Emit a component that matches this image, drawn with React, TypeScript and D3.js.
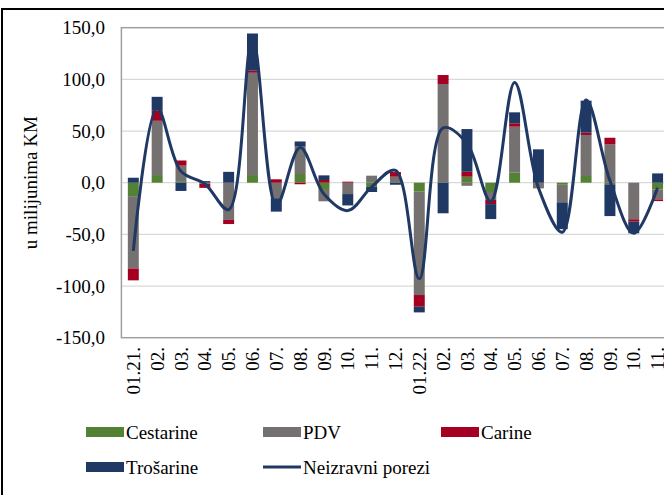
import * as d3 from 'd3';

// monthly change components (u milijunima KM)
const months = ["01.21.", "02.", "03.", "04.", "05.", "06.", "07.", "08.", "09.", "10.", "11.", "12.",
  "01.22.", "02.", "03.", "04.", "05.", "06.", "07.", "08.", "09.", "10.", "11."];

const cestarine = [-13, 7.4, 1.5, 0, 0, 7.4, 0, 8.4, -7, 0, -4, 0,
  -8.7, 0, 5.8, -9, 9.7, 0, -2, 6.5, -1.6, 0, -6.5];
const pdv = [-70, 52.5, 15, -1, -36, 99, -15, 26.5, -11, -11, 6.8, 5.8,
  -100, 95.5, -3, -7.7, 44.5, -5.5, -17, 39.7, 37, -35.4, -9.7];
const carine = [-11.5, 9.7, 5, -4, -4, 2, 3.3, -1.5, 2.6, 1, 0, 4.5,
  -11.3, 8.7, 4.8, -4, 3.3, 0, 0, 2.2, 6.5, -2.3, -1.6];
const trosarine = [4.8, 13.5, -8, 1.5, 10.5, 36, -13, 5, 4.5, -11, -5, -2,
  -5.5, -29.6, 41.3, -14.5, 10.6, 32.3, -26, 31, -30.7, -11.3, 9];
const neizravni = [-66, 72, 11, -1, -26, 140, -22, 34, -11, -27, -4, 12,
  -93, 53, 38, -18, 97, -5, -48, 80, 2, -49, -5];

const yTicks = [150, 100, 50, 0, -50, -100, -150];

const series = [
  { key: 'Cestarine', values: cestarine, color: '#548235' },
  { key: 'PDV', values: pdv, color: '#767171' },
  { key: 'Carine', values: carine, color: '#A50021' },
  { key: 'Trošarine', values: trosarine, color: '#1F3864' },
];
const lineColor = '#1F3864';
const font = '"Liberation Serif", "Times New Roman", serif';

export default function App() {
  const left = 121.4, right = 669.5, top = 27.7, bottom = 337.7;

  const x = d3.scaleBand<number>()
    .domain(d3.range(months.length))
    .range([left, right])
    .paddingInner(0.54)
    .paddingOuter(0.27);
  const y = d3.scaleLinear().domain([-150, 150]).range([bottom, top]);

  const rows = months.map((_, i) => {
    const r: any = { i };
    series.forEach(s => { r[s.key] = s.values[i]; });
    return r;
  });
  const stacked = d3.stack<any>()
    .keys(series.map(s => s.key))
    .offset(d3.stackOffsetDiverging)(rows);

  const cx = (i: number) => (x(i) ?? 0) + x.bandwidth() / 2;
  const line = d3.line<number>()
    .x((_, i) => cx(i))
    .y(d => y(d))
    .curve(d3.curveCatmullRom.alpha(0.5));

  const fmt = (v: number) => d3.format('.1f')(v).replace('.', ',').replace('−', '-');

  return (
    <svg width={664} height={495} style={{ position: 'fixed', left: 0, top: 0, background: '#fff' }}
      fontFamily={font}>
      <rect x={2} y={9} width={700} height={600} fill="none" stroke="#000" strokeWidth={2} />

      {yTicks.filter(t => t !== 150 && t !== -150).map(t => (
        <line key={t} x1={left} x2={right} y1={y(t)} y2={y(t)} stroke="#d9d9d9" strokeWidth={1.3} />
      ))}

      {stacked.map((layer, li) => (
        <g key={layer.key} fill={series[li].color}>
          {layer.map((d, i) => (
            <rect key={i} x={x(i)} width={x.bandwidth()}
              y={y(Math.max(d[0], d[1]))} height={Math.abs(y(d[0]) - y(d[1]))} />
          ))}
        </g>
      ))}

      <rect x={left} y={top} width={right - left} height={bottom - top}
        fill="none" stroke="#a0a0a0" strokeWidth={1.5} />

      <path d={line(neizravni) ?? ''} fill="none" stroke={lineColor} strokeWidth={3} />

      {yTicks.map(t => (
        <text key={t} x={105} y={y(t)} textAnchor="end" dominantBaseline="central" fontSize={19}>
          {fmt(t)}
        </text>
      ))}

      <text transform={`translate(30,${(top + bottom) / 2}) rotate(-90)`} textAnchor="middle"
        dominantBaseline="central" fontSize={19}>u milijunima KM</text>

      {months.map((m, i) => (
        <text key={i} transform={`translate(${cx(i)},347) rotate(-90)`} textAnchor="end"
          dy="0.35em" fontSize={19}>{m}</text>
      ))}

      <g fontSize={19}>
        {[
          { label: 'Cestarine', color: series[0].color, x: 86, y: 432 },
          { label: 'PDV', color: series[1].color, x: 263, y: 432 },
          { label: 'Carine', color: series[2].color, x: 441, y: 432 },
          { label: 'Trošarine', color: series[3].color, x: 86, y: 467 },
        ].map(l => (
          <g key={l.label}>
            <rect x={l.x} y={l.y - 5} width={38} height={10} fill={l.color} />
            <text x={l.x + 40} y={l.y} dominantBaseline="central">{l.label}</text>
          </g>
        ))}
        <line x1={263} x2={301} y1={467} y2={467} stroke={lineColor} strokeWidth={3} />
        <text x={303} y={467} dominantBaseline="central">Neizravni porezi</text>
      </g>
    </svg>
  );
}
